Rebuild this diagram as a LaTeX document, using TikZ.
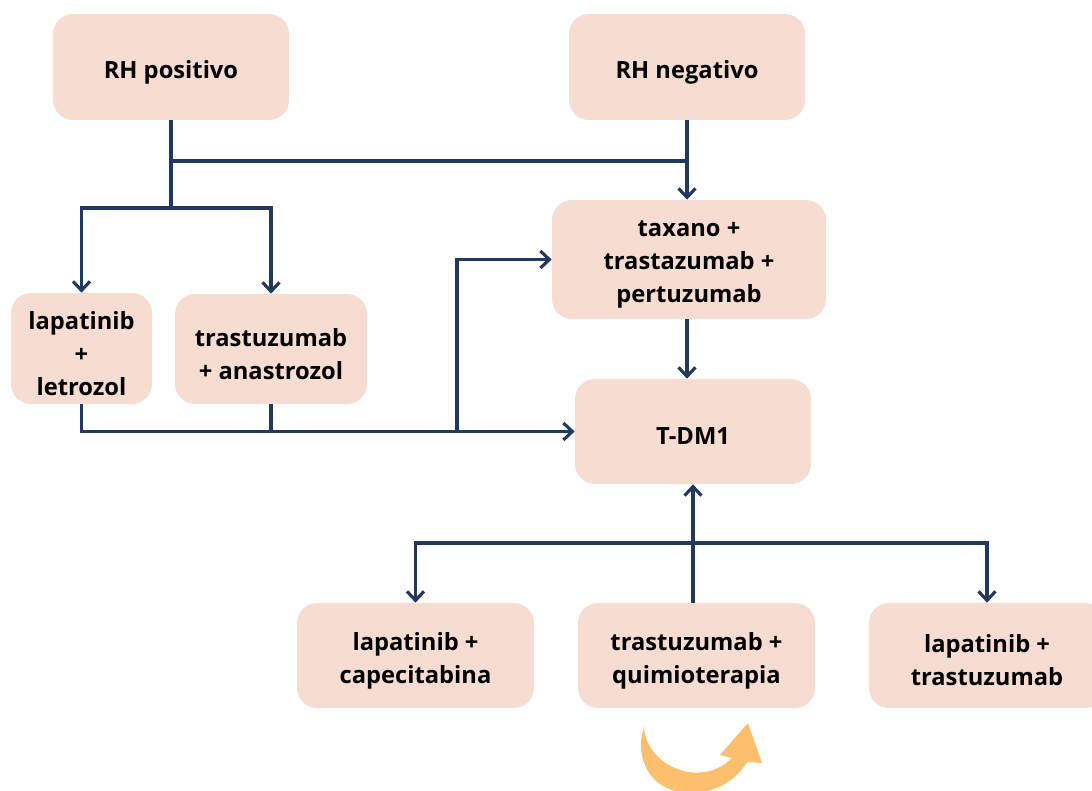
\documentclass[tikz,border=0pt]{standalone}
\usepackage{fontspec}
\setmainfont{Open Sans}
\usetikzlibrary{arrows.meta}
\definecolor{boxc}{HTML}{F7DCD2}
\definecolor{linec}{HTML}{22385E}
\definecolor{orng}{HTML}{FBBF6E}
\begin{document}
\begin{tikzpicture}[x=0.02cm,y=-0.02cm,
  box/.style={fill=boxc, rounded corners=0.4cm, inner sep=0pt},
  txt/.style={align=center, yshift=-0.1cm, inner sep=0pt,
    font=\bfseries\fontsize{13.5}{18.8}\selectfont},
  conn/.style={draw=linec, line width=1.8pt},
  arr/.style={conn, -{Straight Barb[length=0.18cm,width=0.34cm]}}]
\useasboundingbox (0,0) rectangle (1092,791);
\clip (0,0) rectangle (1092,791);
% boxes
\node[box, minimum width=4.72cm, minimum height=2.12cm, label={[txt]center:RH positivo}] (rhp) at (171,67) {};
\node[box, minimum width=4.72cm, minimum height=2.12cm, label={[txt]center:RH negativo}] (rhn) at (687,67) {};
\node[box, minimum width=5.48cm, minimum height=2.38cm, label={[txt]center:{taxano +\\trastazumab +\\pertuzumab}}] (tax) at (689,259.5) {};
\node[box, minimum width=4.72cm, minimum height=2.1cm, label={[txt]center:T-DM1}] (tdm) at (693,431.5) {};
\node[box, minimum width=2.82cm, minimum height=2.22cm, label={[txt]center:{lapatinib\\+\\letrozol}}] (lap) at (81.5,348.5) {};
\node[box, minimum width=3.84cm, minimum height=2.2cm, label={[txt]center:{trastuzumab\\+ anastrozol}}] (tra) at (271,349) {};
\node[box, minimum width=4.74cm, minimum height=2.1cm, label={[txt]center:{lapatinib +\\capecitabina}}] (cap) at (415.5,655.5) {};
\node[box, minimum width=4.74cm, minimum height=2.1cm, label={[txt]center:{trastuzumab +\\quimioterapia}}] (qui) at (696.5,655.5) {};
\node[box, minimum width=4.72cm, minimum height=2.1cm, label={[txt]center:{lapatinib +\\trastuzumab}}] (ltr) at (987,655.5) {};
% junctions
\coordinate (a1) at (171,208);
\coordinate (a2) at (687,161);
\coordinate (b1) at (457,432);
\coordinate (c1) at (693,543);
% connectors
\draw[conn] (rhp.south) -- (a1);
\draw[conn] (rhp.south |- a2) -- (a2);
\draw[arr] (rhn.south) -- (rhn.south |- tax.north);
\draw[arr] (a1) -| (lap.north);
\draw[arr] (a1) -| (tra.north);
\draw[arr] (lap.south) |- (tdm.west);
\draw[conn] (tra.south) -- (tra.south |- tdm.west);
\draw[arr] (b1) |- (tax.west);
\draw[arr] (tax.south -| rhn.south) -- (rhn.south |- tdm.north);
\draw[arr] (tdm.south |- qui.north) -- (tdm.south);
\draw[arr] (c1) -| (cap.north);
\draw[arr] (c1) -| (ltr.north);
% orange curved arrow
\fill[orng] (644,726) .. controls (645,765) and (700,790) .. (732,758)
  -- (720,755) -- (748,723) -- (762,763) -- (747,762)
  .. controls (720,808) and (638,805) .. (641,740) -- cycle;
\end{tikzpicture}
\end{document}
